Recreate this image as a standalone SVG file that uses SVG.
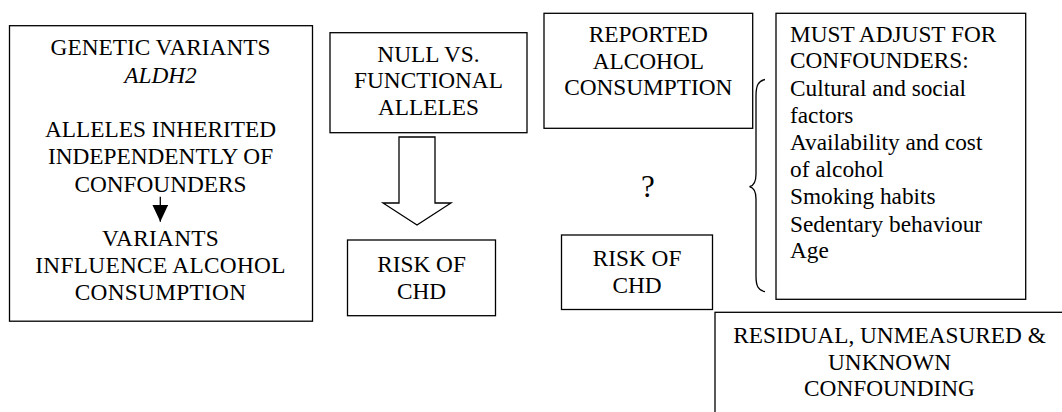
<svg xmlns="http://www.w3.org/2000/svg" width="1062" height="412" viewBox="0 0 1062 412" font-family="'Liberation Serif', 'Times New Roman', 'DejaVu Serif', serif">
<style>
.box{fill:#fff;stroke:#000;stroke-width:1.3}
text{font-family:'Liberation Serif','Times New Roman','DejaVu Serif',serif;font-size:23.3px;fill:#000}
.c{text-anchor:middle}
.conn{fill:none;stroke:#000;stroke-width:1.3}
</style>
<defs>
<marker id="ah" markerWidth="17" markerHeight="16" refX="17" refY="8" orient="auto" markerUnits="userSpaceOnUse" viewBox="0 0 17 16">
<path d="M0,0 L17,8 L0,16 Z" fill="#000"/>
</marker>
</defs>
<rect width="1062" height="412" fill="#fff"/>
<g id="genetic">
<rect class="box" x="9.5" y="25.7" width="303" height="295.5"/>
<text class="c" x="160.5" y="55">GENETIC VARIANTS</text>
<text class="c" x="160.5" y="82.7" font-style="italic">ALDH2</text>
<text class="c" x="160.5" y="136.7">ALLELES INHERITED</text>
<text class="c" x="160.5" y="164.3">INDEPENDENTLY OF</text>
<text class="c" x="160.5" y="192">CONFOUNDERS</text>
<text class="c" x="160.5" y="246" letter-spacing="0.3">VARIANTS</text>
<text class="c" x="160.5" y="273.3" letter-spacing="0.3">INFLUENCE ALCOHOL</text>
<text class="c" x="160.5" y="300" letter-spacing="0.3">CONSUMPTION</text>
</g>
<g id="null-functional">
<rect class="box" x="330" y="32.7" width="197" height="100"/>
<text class="c" x="428.5" y="61.5">NULL VS.</text>
<text class="c" x="428.5" y="88.3">FUNCTIONAL</text>
<text class="c" x="428.5" y="115">ALLELES</text>
</g>
<g id="risk-chd-1">
<rect class="box" x="347.5" y="240" width="148" height="75.7"/>
<text class="c" x="421.5" y="272">RISK OF</text>
<text class="c" x="421.5" y="299">CHD</text>
</g>
<g id="reported">
<rect class="box" x="544" y="13.3" width="208.7" height="115"/>
<text class="c" x="648.3" y="42">REPORTED</text>
<text class="c" x="648.3" y="68.7">ALCOHOL</text>
<text class="c" x="648.3" y="95.3">CONSUMPTION</text>
</g>
<g id="question">
<text class="c" x="648" y="197" style="font-size:31px">?</text>
</g>
<g id="risk-chd-2">
<rect class="box" x="561.5" y="235" width="151" height="74.5"/>
<text class="c" x="637" y="266">RISK OF</text>
<text class="c" x="637" y="293">CHD</text>
</g>
<g id="confounders">
<rect class="box" x="776" y="13.3" width="249.7" height="286"/>
<text x="790" y="41.7">MUST ADJUST FOR</text>
<text x="790" y="68.3">CONFOUNDERS:</text>
<text x="790" y="96">Cultural and social</text>
<text x="790" y="122.7">factors</text>
<text x="790" y="150">Availability and cost</text>
<text x="790" y="177.3">of alcohol</text>
<text x="790" y="204.3">Smoking habits</text>
<text x="790" y="231.7">Sedentary behaviour</text>
<text x="790" y="258.3">Age</text>
</g>
<g id="residual">
<rect class="box" x="715" y="312.3" width="400" height="150"/>
<text class="c" x="889.5" y="343">RESIDUAL, UNMEASURED &amp;</text>
<text class="c" x="889.5" y="369.5">UNKNOWN</text>
<text class="c" x="889.5" y="396">CONFOUNDING</text>
</g>
<g id="connectors">
<line class="conn" x1="160.3" y1="196.7" x2="160.3" y2="221.7" marker-end="url(#ah)"/>
<polygon class="conn" points="399,137 435,137 435,203 451,203 417,225 383,203 399,203"/>
<path class="conn" stroke-width="2" d="M765,79.5 C758,81 756,86 756,96 L756,174 C756,182 753,186 749.5,186.7 C753,187.5 756,191 756,199 L756,276 C756,286 758,290 765,291.7"/>
</g>
</svg>
